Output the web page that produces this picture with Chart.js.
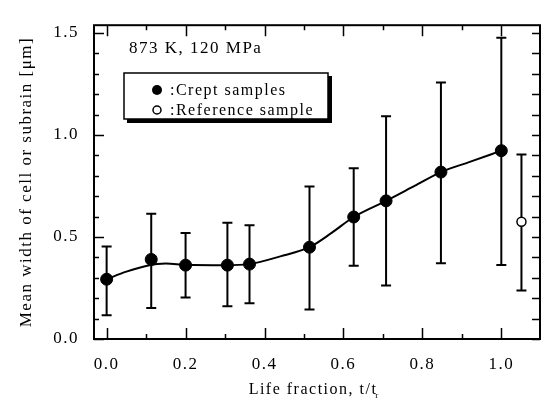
<!DOCTYPE html>
<html>
<head>
<meta charset="utf-8">
<script src="https://cdn.jsdelivr.net/npm/chart.js@4.4.1/dist/chart.umd.min.js"></script>
<style>
  html, body { margin: 0; padding: 0; background: #fff; }
</style>
</head>
<body>
<canvas id="grafico" width="547" height="409"></canvas>
<script>
// datos
const lifeFraction = [0.0, 0.113, 0.2, 0.306, 0.362, 0.514, 0.626, 0.708, 0.847, 1.0];
const meanWidth = [0.293, 0.39, 0.362, 0.362, 0.367, 0.45, 0.598, 0.677, 0.818, 0.923];
const errUpper = [0.453, 0.614, 0.519, 0.570, 0.558, 0.748, 0.837, 1.092, 1.257, 1.476];
const errLower = [0.116, 0.152, 0.204, 0.160, 0.175, 0.144, 0.359, 0.262, 0.371, 0.363];

const refFraction = [1.051];
const refWidth = [0.575];
const refUpper = [0.904];
const refLower = [0.238];

// curva de ajuste
const curveX = [0.0, 0.05, 0.1, 0.15, 0.2, 0.3, 0.36, 0.44, 0.514, 0.57, 0.626, 0.708, 0.78, 0.847, 0.92, 1.0];
const curveY = [0.293, 0.33, 0.358, 0.37, 0.364, 0.362, 0.367, 0.405, 0.45, 0.52, 0.598, 0.677, 0.75, 0.818, 0.868, 0.923];

const xTicks = [0.0, 0.2, 0.4, 0.6, 0.8, 1.0];
const yTicks = [0.0, 0.5, 1.0, 1.5];

const serif = '"Liberation Serif", "Times New Roman", serif';

function toPoints(xs, ys) {
  return xs.map((x, i) => ({ x: x, y: ys[i] }));
}

const decoracion = {
  id: 'decoracion',
  beforeDraw(chart) {
    chart.ctx.letterSpacing = '1.5px';
  },
  beforeDatasetsDraw(chart) {
    const ctx = chart.ctx;
    const xs = chart.scales.x;
    const ys = chart.scales.y;
    ctx.save();
    ctx.strokeStyle = '#000';
    ctx.lineWidth = 2;
    const barras = (xv, yu, yl) => {
      xv.forEach((x, i) => {
        const px = xs.getPixelForValue(x);
        const pu = ys.getPixelForValue(yu[i]);
        const pl = ys.getPixelForValue(yl[i]);
        ctx.beginPath();
        ctx.moveTo(px, pu); ctx.lineTo(px, pl);
        ctx.moveTo(px - 5, pu); ctx.lineTo(px + 5, pu);
        ctx.moveTo(px - 5, pl); ctx.lineTo(px + 5, pl);
        ctx.stroke();
      });
    };
    barras(lifeFraction, errUpper, errLower);
    barras(refFraction, refUpper, refLower);
    ctx.restore();
  },
  afterDraw(chart) {
    const ctx = chart.ctx;
    const a = chart.chartArea;
    const xs = chart.scales.x;
    const ys = chart.scales.y;
    ctx.save();
    ctx.strokeStyle = '#000';
    ctx.fillStyle = '#000';
    ctx.lineWidth = 2;
    ctx.strokeRect(a.left, a.top, a.right - a.left, a.bottom - a.top);

    // marcas hacia adentro
    ctx.beginPath();
    for (let i = 0; i <= 10; i++) {
      const v = i / 10;
      const px = Math.round(xs.getPixelForValue(v)) + 0.5;
      const len = i % 2 === 0 ? 11 : 5;
      ctx.moveTo(px, a.bottom); ctx.lineTo(px, a.bottom - len);
      ctx.moveTo(px, a.top); ctx.lineTo(px, a.top + len);
    }
    for (let i = 0; i <= 15; i++) {
      const v = i / 10;
      const py = Math.round(ys.getPixelForValue(v)) + 0.5;
      const len = i % 5 === 0 ? 10 : 5;
      ctx.moveTo(a.left, py); ctx.lineTo(a.left + len, py);
      ctx.moveTo(a.right, py); ctx.lineTo(a.right - 8, py);
    }
    ctx.lineWidth = 1.5;
    ctx.stroke();

    // titulo de condiciones
    ctx.font = '17px ' + serif;
    ctx.textAlign = 'left';
    ctx.textBaseline = 'alphabetic';
    ctx.fillText('873 K, 120 MPa', 129, 53);

    // leyenda con sombra
    ctx.fillRect(127, 76, 205, 47);
    ctx.fillStyle = '#fff';
    ctx.fillRect(124, 73, 204, 46);
    ctx.lineWidth = 1.5;
    ctx.strokeRect(124, 73, 204, 46);
    ctx.fillStyle = '#000';
    ctx.beginPath();
    ctx.arc(157, 90, 5, 0, Math.PI * 2);
    ctx.fill();
    ctx.beginPath();
    ctx.arc(157, 110, 4, 0, Math.PI * 2);
    ctx.fillStyle = '#fff';
    ctx.fill();
    ctx.stroke();
    ctx.fillStyle = '#000';
    ctx.font = '16px ' + serif;
    ctx.fillText(':Crept samples', 170, 95);
    ctx.fillText(':Reference sample', 170, 115);

    // titulos de ejes
    ctx.font = '16px ' + serif;
    ctx.textAlign = 'center';
    const tx = 'Life fraction, t/t';
    ctx.fillText(tx, 313, 394);
    const w = ctx.measureText(tx).width;
    ctx.font = '9px ' + serif;
    ctx.textAlign = 'left';
    ctx.fillText('r', 313 + w / 2 - 2, 398);

    ctx.translate(27, 182);
    ctx.rotate(-Math.PI / 2);
    ctx.font = '17px ' + serif;
    ctx.textAlign = 'center';
    ctx.textBaseline = 'middle';
    ctx.fillText('Mean width of cell or subrain [\u03bcm]', 0, 0);
    ctx.restore();
  }
};

const ctx = document.getElementById('grafico');
const grafico = new Chart(ctx, {
  type: 'scatter',
  data: {
    datasets: [{
      type: 'line',
      data: toPoints(curveX, curveY),
      borderColor: '#000',
      borderWidth: 2,
      pointRadius: 0,
      cubicInterpolationMode: 'monotone',
      fill: false
    }, {
      data: toPoints(lifeFraction, meanWidth),
      backgroundColor: '#000',
      borderColor: '#000',
      pointRadius: 6,
      pointHoverRadius: 6
    }, {
      data: toPoints(refFraction, refWidth),
      backgroundColor: '#fff',
      borderColor: '#000',
      borderWidth: 1.5,
      pointRadius: 4.5,
      pointHoverRadius: 4.5
    }]
  },
  options: {
    responsive: false,
    animation: false,
    devicePixelRatio: 1,
    layout: { padding: { top: 12, right: 7, left: 0, bottom: 0 } },
    plugins: {
      legend: { display: false },
      tooltip: { enabled: false }
    },
    scales: {
      x: {
        type: 'linear',
        min: -0.032,
        max: 1.098,
        afterBuildTicks: s => { s.ticks = xTicks.map(v => ({ value: v })); },
        afterFit: s => { s.height = 70; },
        grid: { display: false, drawTicks: false },
        border: { display: false },
        ticks: {
          padding: 15,
          color: '#000',
          font: { family: serif, size: 17 },
          callback: v => v.toFixed(1)
        }
      },
      y: {
        type: 'linear',
        min: 0,
        max: 1.538,
        afterBuildTicks: s => { s.ticks = yTicks.map(v => ({ value: v })); },
        afterFit: s => { s.width = 94; },
        grid: { display: false, drawTicks: false },
        border: { display: false },
        ticks: {
          padding: 15,
          color: '#000',
          font: { family: serif, size: 17 },
          callback: v => v.toFixed(1)
        }
      }
    }
  },
  plugins: [decoracion]
});
</script>
</body>
</html>
